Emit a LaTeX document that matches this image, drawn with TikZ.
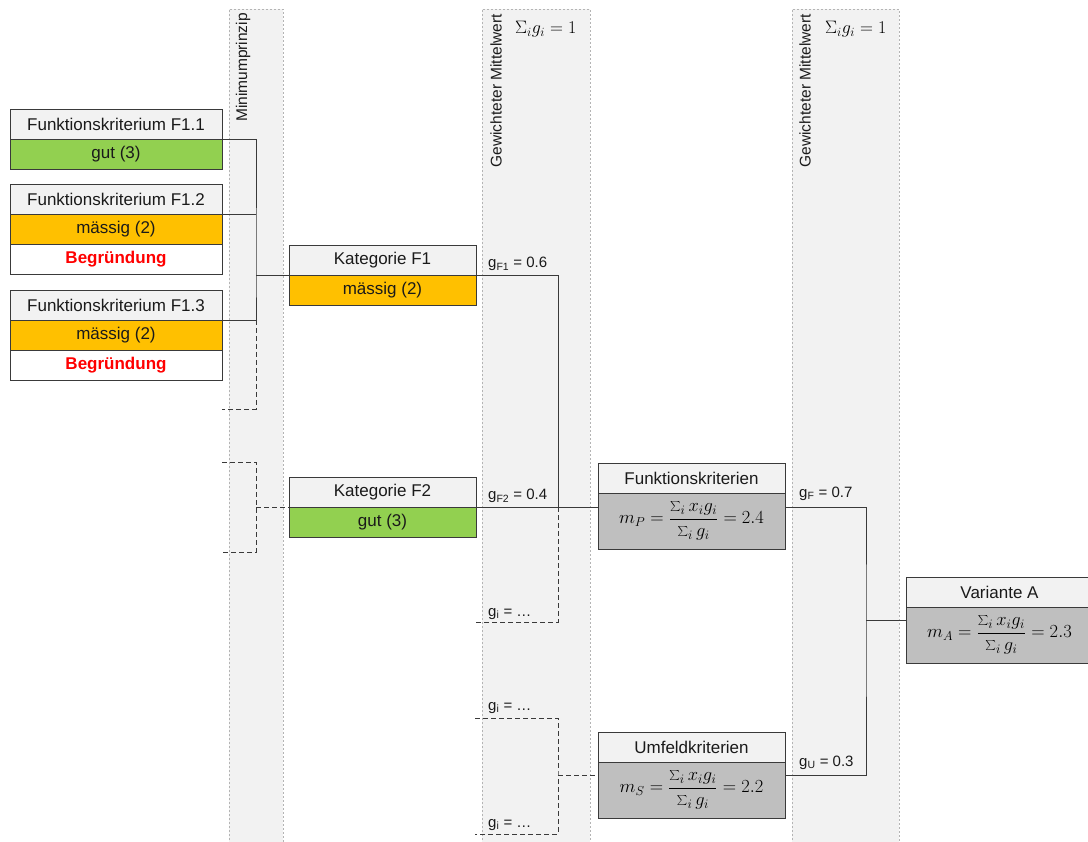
\RequirePackage{fix-cm}
\documentclass[tikz,border=0pt]{standalone}
\usepackage[no-math]{fontspec}
\setmainfont{Liberation Sans}
\usetikzlibrary{calc}
\definecolor{hdr}{HTML}{F2F2F2}
\definecolor{grn}{HTML}{92D050}
\definecolor{org}{HTML}{FFC000}
\definecolor{gry}{HTML}{BFBFBF}
\definecolor{bandfill}{HTML}{F2F2F2}
\definecolor{bandline}{HTML}{B4B4B4}
\definecolor{ln}{HTML}{3A3A3A}
\definecolor{txt}{HTML}{1A1A1A}
\begin{document}
\begin{tikzpicture}[x=1pt,y=-1pt,
  cell/.style={draw=ln, line width=0.9pt, anchor=north west, inner sep=0pt, outer sep=0pt,
    minimum height=30pt, font=\fontsize{17}{20}\selectfont, text=txt},
  wA/.style={minimum width=212pt},
  wB/.style={minimum width=187pt},
  hdrbox/.style={fill=hdr},
  grnbox/.style={fill=grn},
  orgbox/.style={fill=org},
  whtbox/.style={fill=white, text=red, font=\fontsize{17}{20}\selectfont\bfseries},
  frmbox/.style={fill=gry, minimum height=56pt, font=\fontsize{18.5}{22}\selectfont, text=black},
  conn/.style={draw=ln, line width=0.9pt},
  dconn/.style={draw=ln, line width=0.9pt, dash pattern=on 5pt off 3pt},
  band/.style={fill=bandfill},
  bandedge/.style={draw=bandline, line width=0.7pt, dash pattern=on 2pt off 2pt},
  vlabel/.style={rotate=90, anchor=east, inner sep=0pt, font=\fontsize{15.5}{18}\selectfont, text=txt},
  glabel/.style={anchor=base west, inner sep=0pt, font=\fontsize{15}{18}\selectfont, text=txt},
  slabel/.style={anchor=base west, inner sep=0pt, font=\fontsize{18}{21}\selectfont, text=black}
]
\useasboundingbox (0,0) rectangle (1088,842);
% background bands
\fill[band] (229,9) rectangle (283,860);
\draw[bandedge] (229,860) -- (229,9) -- (283,9) -- (283,860);
\fill[band] (482,9) rectangle (590,860);
\draw[bandedge] (482,860) -- (482,9) -- (590,9) -- (590,860);
\fill[band] (792,9) rectangle (899,860);
\draw[bandedge] (792,860) -- (792,9) -- (899,9) -- (899,860);
% band labels
\node[vlabel] (lmin) at (243,13) {Minimumprinzip};
\node[vlabel] (lgm1) at (496,14) {Gewichteter Mittelwert};
\node[vlabel] (lgm2) at (805,14) {Gewichteter Mittelwert};
\node[slabel] (sum1) at (515,34) {$\Sigma_i g_i = 1$};
\node[slabel] (sum2) at (825,34) {$\Sigma_i g_i = 1$};
% criteria boxes
\node[cell, hdrbox, wA] (f11h) at (10,109) {Funktionskriterium F1.1};
\node[cell, grnbox, wA] (f11v) at (f11h.south west) {gut (3)};
\node[cell, hdrbox, wA] (f12h) at (10,184) {Funktionskriterium F1.2};
\node[cell, orgbox, wA] (f12v) at (f12h.south west) {mässig (2)};
\node[cell, whtbox, wA] (f12b) at (f12v.south west) {Begründung};
\node[cell, hdrbox, wA] (f13h) at (10,290) {Funktionskriterium F1.3};
\node[cell, orgbox, wA] (f13v) at (f13h.south west) {mässig (2)};
\node[cell, whtbox, wA] (f13b) at (f13v.south west) {Begründung};
% categories
\node[cell, hdrbox, wB] (k1h) at (289,245) {Kategorie F1};
\node[cell, orgbox, wB] (k1v) at (k1h.south west) {mässig (2)};
\node[cell, hdrbox, wB] (k2h) at (289,477) {Kategorie F2};
\node[cell, grnbox, wB] (k2v) at (k2h.south west) {gut (3)};
% groups
\node[cell, hdrbox, wB] (fkh) at (598,463) {Funktionskriterien};
\node[cell, frmbox, wB] (fkv) at (fkh.south west) {$\displaystyle m_P=\frac{\sum_i x_i g_i}{\sum_i g_i}=2.4$};
\node[cell, hdrbox, wB] (ukh) at (598,732) {Umfeldkriterien};
\node[cell, frmbox, wB] (ukv) at (ukh.south west) {$\displaystyle m_S=\frac{\sum_i x_i g_i}{\sum_i g_i}=2.2$};
\node[cell, hdrbox, wB] (vah) at (906,577) {Variante A};
\node[cell, frmbox, wB] (vav) at (vah.south west) {$\displaystyle m_A=\frac{\sum_i x_i g_i}{\sum_i g_i}=2.3$};
% weight labels
\node[glabel] (gf1) at (488,268) {g\textsubscript{F1} = 0.6};
\node[glabel] (gf2) at (488,500) {g\textsubscript{F2} = 0.4};
\node[glabel] (gi1) at (488,616) {g\textsubscript{i} = …};
\node[glabel] (gi2) at (488,710) {g\textsubscript{i} = …};
\node[glabel] (gi3) at (488,827) {g\textsubscript{i} = …};
\node[glabel] (gfF) at (799,497) {g\textsubscript{F} = 0.7};
\node[glabel] (gfU) at (799,766) {g\textsubscript{U} = 0.3};
% connectors: criteria -> Kategorie F1
\coordinate (jA) at (256,275);
\coordinate (dA) at (222,409);
\draw[conn] (f11h.south east) -| (jA) |- (f13h.south east);
\draw[conn] (f12h.south east) -- (f12h.south east -| jA);
\draw[conn] (jA) -- (k1h.south west);
\draw[dconn] (f13h.south east -| jA) |- (dA);
% bracket -> Kategorie F2
\coordinate (jB) at (256,507);
\coordinate (dB1) at (222,462);
\coordinate (dB2) at (222,552);
\draw[dconn] (dB1) -| (jB) |- (dB2);
\draw[dconn] (jB) -- (k2h.south west);
% categories -> Funktionskriterien
\coordinate (jC) at (558,507);
\coordinate (dC) at (475,622);
\draw[conn] (k1h.south east) -| (jC);
\draw[conn] (k2h.south east) -- (k2h.south east -| fkv.west);
\draw[dconn] (jC) |- (dC);
% bracket -> Umfeldkriterien
\coordinate (jD) at (558,775);
\coordinate (dD1) at (475,718);
\coordinate (dD2) at (475,834);
\draw[dconn] (dD1) -| (jD) |- (dD2);
\draw[dconn] (jD) -- (jD -| ukv.west);
% groups -> Variante A
\coordinate (jE) at (866,620);
\draw[conn] (k2h.south east -| fkv.east) -| (jE) |- (jD -| ukv.east);
\draw[conn] (jE) -- (jE -| vav.west);
\end{tikzpicture}
\end{document}
